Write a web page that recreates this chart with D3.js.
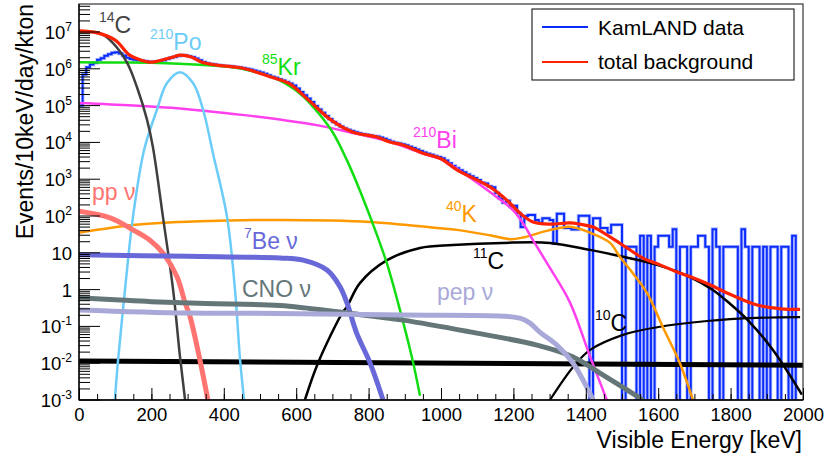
<!DOCTYPE html>
<html>
<head>
<meta charset="utf-8">
<script src="https://cdn.jsdelivr.net/npm/d3@7"></script>
<style>
  body { margin: 0; background: #fff; }
  svg { font-family: "Liberation Sans", Arial, Helvetica, sans-serif; }
</style>
</head>
<body>
<script>
// KamLAND singles spectrum with background components

// tick labels
var xTickLabels = [0, 200, 400, 600, 800, 1000, 1200, 1400, 1600, 1800, 2000];
var yDecades = [-3, -2, -1, 0, 1, 2, 3, 4, 5, 6, 7];

// KamLAND data, 10 keV bins from 0 to 2000 keV
var binWidth = 10;
var kamland = [
  1.0e5, 7.0e5, 1.1e6, 1.3e6, 1.45e6, 1.75e6, 1.95e6, 2.25e6, 2.5e6, 2.75e6,
  2.8e6, 2.6e6, 2.3e6, 2.0e6, 1.85e6, 1.75e6, 1.7e6, 1.65e6, 1.6e6, 1.55e6,
  1.55e6, 1.58e6, 1.62e6, 1.72e6, 1.85e6, 2.0e6, 2.1e6, 2.25e6, 2.35e6, 2.3e6,
  2.2e6, 2.1e6, 1.9e6, 1.7e6, 1.52e6, 1.42e6, 1.36e6, 1.3e6, 1.26e6, 1.23e6,
  1.2e6, 1.18e6, 1.15e6, 1.12e6, 1.08e6, 1.05e6, 1.0e6, 9.6e5, 9.0e5, 8.4e5,
  7.9e5, 7.3e5, 6.7e5, 6.1e5, 5.7e5, 5.2e5, 4.8e5, 4.4e5, 4.0e5, 3.5e5,
  2.9e5, 2.35e5, 1.9e5, 1.55e5, 1.25e5, 9.8e4, 7.9e4, 6.4e4, 5.2e4, 4.3e4,
  3.6e4, 3.1e4, 2.7e4, 2.4e4, 2.2e4, 2.05e4, 1.9e4, 1.78e4, 1.7e4, 1.62e4,
  1.55e4, 1.5e4, 1.45e4, 1.36e4, 1.25e4, 1.14e4, 1.05e4, 9.8e3, 9.4e3, 8.9e3,
  8.4e3, 7.6e3, 7.0e3, 6.4e3, 5.8e3, 5.3e3, 4.9e3, 4.6e3, 4.3e3, 4.0e3,
  3.7e3, 3.2e3, 2.7e3, 2.3e3, 2.0e3, 1.75e3, 1.55e3, 1.35e3, 1.2e3, 1.08e3,
  950, 800, 760, 640, 600, 420, 300, 230, 260, 180,
  190, 120, 50, 100, 107, 107, 78, 66, 87, 87,
  78, 18, 116, 116, 47, 47, 43, 43, 101, 101,
  101, 0, 87, 87, 47, 47, 35, 58, 58, 58,
  0, 14.5, 14.5, 14.5, 0, 29, 0, 29, 0, 14.5,
  29, 29, 29, 14.5, 44, 0, 14.5, 14.5, 0, 14.5,
  14.5, 29, 29, 14.5, 0, 44, 14.5, 0, 14.5, 14.5,
  14.5, 14.5, 0, 44, 14.5, 0, 14.5, 14.5, 0, 14.5,
  0, 14.5, 14.5, 0, 14.5, 14.5, 0, 29, 0, 0
];

// background components, [energy keV, events/10keV/day/kton]
var totalBg = [[0,1.07e7],[50,9.5e6],[100,6.0e6],[140,2.35e6],[170,1.74e6],[200,1.51e6],[230,1.74e6],
  [260,2.1e6],[280,2.35e6],[310,2.1e6],[340,1.51e6],[380,1.26e6],[450,1.05e6],[530,6.0e5],[580,4.0e5],
  [638,1.3e5],[693,4.3e4],[757,1.9e4],[823,1.41e4],[859,1.02e4],[895,8.5e3],[950,5.1e3],[1000,3.6e3],
  [1044,1.8e3],[1135,6.2e2],[1182,2.7e2],[1218,1.2e2],[1254,69],[1301,60],[1356,65],[1384,60],[1420,50],
  [1467,27],[1514,13.5],[1558,7.2],[1605,4.7],[1652,3.0],[1696,2.1],[1743,1.35],[1790,0.81],[1873,0.38],
  [1940,0.3],[1992,0.29]];
var c14 = [[0,1.0e7],[30,1.0e7],[58,9.3e6],[94,5.0e6],[133,1.45e6],[160,3.2e5],[188,4.1e4],[204,7.6e3],
  [232,93],[260,0.98],[279,0.015],[293,0.001],[300,0.0003]];
var po210 = [[99,0.001],[108,0.0123],[127,0.98],[149,93],[180,6.3e3],[215,7.6e4],[243,4.1e5],[279,8.1e5],
  [315,4.1e5],[343,7.6e4],[370,5.1e3],[409,93],[431,0.98],[445,0.0123],[456,0.001]];
var kr85 = [[0,1.5e6],[100,1.48e6],[243,1.42e6],[425,1.1e6],[480,8.5e5],[528,6.2e5],[570,4.0e5],[619,1.8e5],
  [663,6.0e4],[702,1.8e4],[740,3.3e3],[775,5.2e2],[812,60],[851,5.0],[881,0.45],[920,0.014],[942,0.0013]];
var bi210 = [[0,1.17e5],[150,1.0e5],[300,8.0e4],[450,5.6e4],[560,4.1e4],[660,2.9e4],[757,1.8e4],[850,1.1e4],
  [950,5.0e3],[1000,3.5e3],[1050,1.75e3],[1100,8.0e2],[1150,3.5e2],[1200,1.4e2],[1230,56],[1254,22],
  [1300,4],[1356,0.45],[1412,0.015],[1458,0.001]];
var k40 = [[0,35],[149,57],[334,72],[555,78],[804,69],[989,47],[1044,42],[1135,30],[1191,23.5],[1226,26],
  [1295,40],[1356,51],[1412,35],[1467,18.6],[1494,7.8],[1530,2.8],[1569,0.81],[1613,0.095],[1660,0.01],[1696,0.001]];
var c11 = [[624,0.001],[660,0.01],[727,0.23],[740,0.34],[776,1.5],[851,6.3],[942,13.5],[1033,16.2],
  [1171,18.6],[1301,18.6],[1412,12],[1503,7.8],[1597,4.7],[1688,2.2],[1751,0.98],[1800,0.4],[1850,0.14],
  [1917,0.023],[1997,0.0014]];
var c10 = [[1301,0.001],[1365,0.0079],[1412,0.023],[1503,0.059],[1597,0.095],[1735,0.14],[1873,0.17],[1992,0.178]];
var flatBg = [[0,0.0115],[2000,0.0088]];
var ppNu = [[0,135],[86,89],[149,42],[196,22],[232,9.8],[271,2.2],[293,0.44],[307,0.18],[334,0.0123],[356,0.001]];
var be7Nu = [[0,8.8],[300,8.0],[555,7.2],[619,6.3],[685,3.4],[721,1.2],[740,0.44],[767,0.066],[804,0.0102],[840,0.001]];
var cnoNu = [[0,0.6],[100,0.53],[200,0.47],[350,0.42],[555,0.37],[740,0.23],[895,0.148],[1080,0.071],
  [1265,0.031],[1365,0.0148],[1439,0.0054],[1503,0.0022],[1558,0.001]];
var pepNu = [[0,0.28],[300,0.23],[550,0.225],[895,0.204],[1171,0.19],[1220,0.165],[1246,0.123],[1273,0.07],
  [1320,0.031],[1365,0.01],[1403,0.0022],[1420,0.001]];

var W = 824, H = 459;
var padL = 79, padR = 803, padT = 4, padB = 400;

var svg = d3.select('body').append('svg')
    .attr('width', W)
    .attr('height', H)

var x = d3.scaleLinear().domain([0, 2000]).range([padL, padR]);
var y = d3.scaleLog().domain([1e-3, 5.77e7]).range([padB, padT]);

svg.append('defs').append('clipPath').attr('id', 'plot')
  .append('rect').attr('x', padL).attr('y', padT).attr('width', padR - padL).attr('height', padB - padT);

var plot = svg.append('g').attr('clip-path', 'url(#plot)');

// data histogram
var steps = kamland.map(function (v, i) { return [i * binWidth, v] });
steps.push([kamland.length * binWidth, kamland[kamland.length - 1]]);
var histLine = d3.line()
  .x(function (d) { return x(d[0]) })
  .y(function (d) { return d[1] > 0 ? y(d[1]) : padB + 3 })
  .curve(d3.curveStepAfter);
plot.append('path').attr('d', histLine(steps))
  .attr('fill', 'none').attr('stroke', '#8899ff').attr('stroke-width', 3.6).attr('opacity', 0.6);
plot.append('path').attr('d', histLine(steps))
  .attr('fill', 'none').attr('stroke', '#0a2cff').attr('stroke-width', 2);

var curve = d3.line()
  .x(function (d) { return x(d[0]) })
  .y(function (d) { return y(d[1]) })
  .curve(d3.curveCatmullRom.alpha(0.5));

var comps = [
  { d: flatBg, color: '#000000', w: 5 },
  { d: c10, color: '#000000', w: 2.2 },
  { d: c11, color: '#000000', w: 2.5 },
  { d: k40, color: '#ff9900', w: 2.5 },
  { d: bi210, color: '#ff40ee', w: 2.5 },
  { d: kr85, color: '#11dd11', w: 2.5 },
  { d: po210, color: '#6cccf8', w: 2.5 },
  { d: c14, color: '#3f3f3f', w: 2.5 },
  { d: ppNu, color: '#ff7470', w: 5 },
  { d: be7Nu, color: '#6868d8', w: 5 },
  { d: cnoNu, color: '#657679', w: 5 },
  { d: pepNu, color: '#a9a9d9', w: 5 },
  { d: totalBg, color: '#ff2200', w: 3.2 }
];

plot.selectAll('path.comp')
  .data(comps)
  .enter().append('path')
  .attr('class', 'comp')
  .attr('d', function (c) { return curve(c.d) })
  .attr('fill', 'none')
  .attr('stroke', function (c) { return c.color })
  .attr('stroke-width', function (c) { return c.w })
  .attr('stroke-linejoin', 'round');

// frame
svg.append('rect')
  .attr('x', padL).attr('y', padT).attr('width', padR - padL).attr('height', padB - padT)
  .attr('fill', 'none').attr('stroke', '#444').attr('stroke-width', 1.3);
svg.append('line').attr('x1', padL).attr('x2', padL).attr('y1', padT).attr('y2', padB)
  .attr('stroke', '#000').attr('stroke-width', 1.3);
svg.append('line').attr('x1', padL).attr('x2', padR).attr('y1', padB).attr('y2', padB)
  .attr('stroke', '#000').attr('stroke-width', 1.3);

// x axis
var xMinor = svg.append('g').attr('transform', 'translate(0,' + padB + ')')
  .call(d3.axisBottom(x).tickValues(d3.range(0, 2001, 50)).tickSizeInner(-6).tickSizeOuter(0).tickFormat(''));
xMinor.select('.domain').remove();
var xMajor = svg.append('g').attr('transform', 'translate(0,' + padB + ')')
  .call(d3.axisBottom(x).tickValues(xTickLabels).tickSizeInner(-12).tickSizeOuter(0).tickPadding(8)
    .tickFormat(d3.format('d')));
xMajor.select('.domain').remove();
svg.selectAll('.tick line').attr('stroke', '#000').attr('stroke-width', 1);
xMajor.selectAll('text').attr('font-size', 18.5).attr('fill', '#000')
  .attr('font-family', '"Liberation Sans", Arial, sans-serif');

// y axis ticks
var minorVals = [];
yDecades.forEach(function (e) {
  for (var m = 2; m <= 9; m++) {
    var v = m * Math.pow(10, e);
    if (v < y.domain()[1]) minorVals.push(v);
  }
});
svg.append('g').selectAll('line').data(minorVals).enter().append('line')
  .attr('x1', padL).attr('x2', padL + 11)
  .attr('y1', function (d) { return y(d) }).attr('y2', function (d) { return y(d) })
  .attr('stroke', '#000').attr('stroke-width', 1);
svg.append('g').selectAll('line').data(yDecades).enter().append('line')
  .attr('x1', padL).attr('x2', padL + 21)
  .attr('y1', function (e) { return y(Math.pow(10, e)) }).attr('y2', function (e) { return y(Math.pow(10, e)) })
  .attr('stroke', '#000').attr('stroke-width', 1);

var yLab = svg.append('g').selectAll('text').data(yDecades).enter().append('text')
  .attr('x', 72)
  .attr('y', function (e) { return y(Math.pow(10, e)) + 7 })
  .attr('text-anchor', 'end')
  .attr('font-size', 18.5)
  .attr('fill', '#000');
yLab.each(function (e) {
  var t = d3.select(this);
  if (e === 0) { t.text('1'); return; }
  if (e === 1) { t.text('10'); return; }
  t.append('tspan').text('10');
  t.append('tspan').attr('dy', -8).attr('font-size', 12).text(e < 0 ? '-' + (-e) : e);
});

// axis titles
svg.append('text')
  .attr('transform', 'translate(33,4) rotate(-90)')
  .attr('text-anchor', 'end')
  .attr('font-size', 23)
  .text('Events/10keV/day/kton');
svg.append('text')
  .attr('x', 802).attr('y', 448)
  .attr('text-anchor', 'end')
  .attr('font-size', 23)
  .text('Visible Energy [keV]');

// component labels
var labels = [
  { sup: '14', txt: 'C', x: 99, y: 33, color: '#444444' },
  { sup: '210', txt: 'Po', x: 150, y: 50, color: '#6cccf8' },
  { sup: '85', txt: 'Kr', x: 262, y: 75, color: '#11dd11' },
  { sup: '210', txt: 'Bi', x: 413, y: 148, color: '#ff40ee' },
  { sup: '40', txt: 'K', x: 446, y: 222, color: '#ff9900' },
  { sup: '11', txt: 'C', x: 473, y: 269, color: '#000000' },
  { sup: '10', txt: 'C', x: 595, y: 331, color: '#000000' },
  { sup: '', txt: 'pp \u03bd', x: 92, y: 200, color: '#ff7470' },
  { sup: '7', txt: 'Be \u03bd', x: 244, y: 249, color: '#6868d8' },
  { sup: '', txt: 'CNO \u03bd', x: 242, y: 297, color: '#657679' },
  { sup: '', txt: 'pep \u03bd', x: 437, y: 300, color: '#a9a9d9' }
];
var lab = svg.append('g').selectAll('text').data(labels).enter().append('text')
  .attr('x', function (d) { return d.x })
  .attr('y', function (d) { return d.y })
  .attr('fill', function (d) { return d.color })
  .attr('font-size', 23);
lab.each(function (d) {
  var t = d3.select(this);
  if (d.sup) {
    t.append('tspan').attr('font-size', 14).attr('dy', -11).text(d.sup);
    t.append('tspan').attr('dy', 11).text(d.txt);
  } else {
    t.text(d.txt);
  }
});

// legend
var legendItems = ['KamLAND data', 'total background'];
var legendColors = ['#0a2cff', '#ff2200'];
var leg = svg.append('g');
leg.append('rect').attr('x', 532).attr('y', 9).attr('width', 262).attr('height', 71)
  .attr('fill', '#fff').attr('stroke', '#000').attr('stroke-width', 1);
leg.selectAll('line').data(legendItems).enter().append('line')
  .attr('x1', 542).attr('x2', 588)
  .attr('y1', function (d, i) { return 27 + i * 35 }).attr('y2', function (d, i) { return 27 + i * 35 })
  .attr('stroke', function (d, i) { return legendColors[i] }).attr('stroke-width', 2);
leg.selectAll('text').data(legendItems).enter().append('text')
  .attr('x', 598).attr('y', function (d, i) { return 35 + i * 34 })
  .attr('font-size', 21)
  .text(function (d) { return d });
</script>
</body>
</html>
